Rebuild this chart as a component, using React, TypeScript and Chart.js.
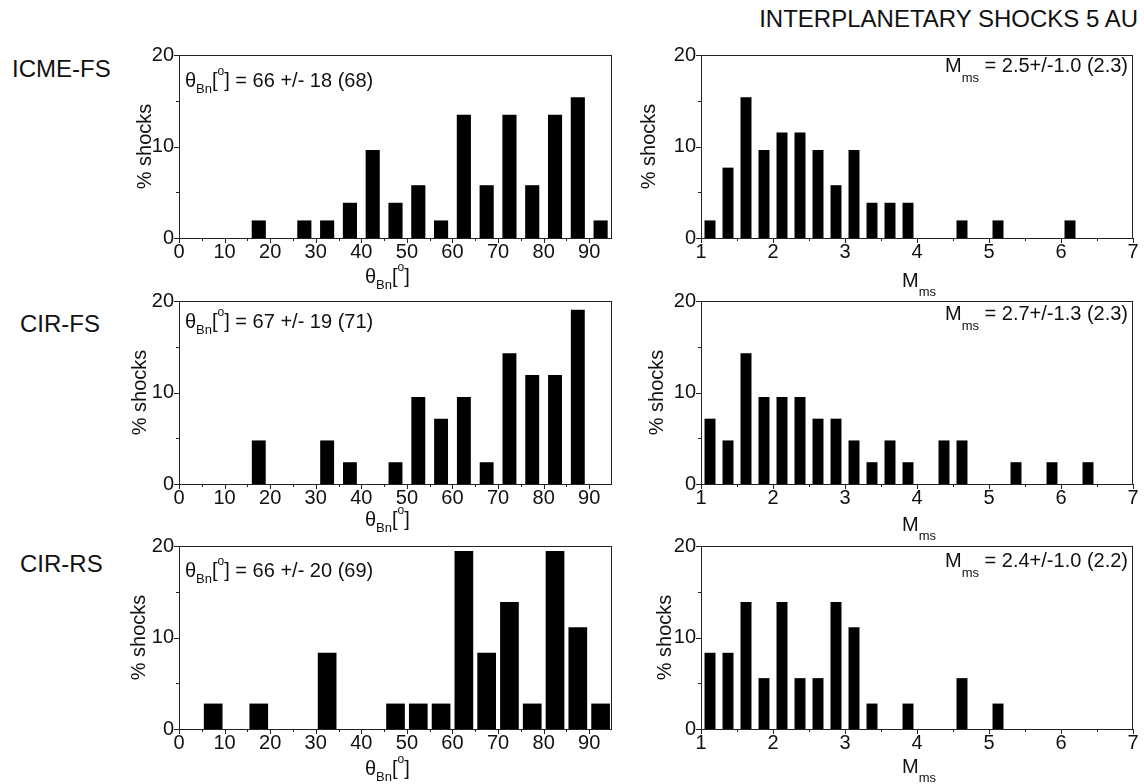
import React, { useEffect, useRef } from 'react';
import { Chart, registerables } from 'chart.js';

Chart.register(...registerables);

const FONT = "'Liberation Sans', Arial, Helvetica, sans-serif";
const INK = '#111';

// ---------- data ----------
const chartTitle = 'INTERPLANETARY SHOCKS 5 AU';
const rowLabels = ['ICME-FS', 'CIR-FS', 'CIR-RS'];
const yAxisTitle = '% shocks';

const thetaCenters = [2.5, 7.5, 12.5, 17.5, 22.5, 27.5, 32.5, 37.5, 42.5, 47.5, 52.5, 57.5, 62.5, 67.5, 72.5, 77.5, 82.5, 87.5, 92.5];
const icmeFsTheta = [0, 0, 0, 1.92, 0, 1.92, 1.92, 3.85, 9.62, 3.85, 5.77, 1.92, 13.46, 5.77, 13.46, 5.77, 13.46, 15.38, 1.92];
const cirFsTheta = [0, 0, 0, 4.76, 0, 0, 4.76, 2.38, 0, 2.38, 9.52, 7.14, 9.52, 2.38, 14.29, 11.9, 11.9, 19.05, 0];
const cirRsTheta = [0, 2.78, 0, 2.78, 0, 0, 8.33, 0, 0, 2.78, 2.78, 2.78, 19.44, 8.33, 13.89, 2.78, 19.44, 11.11, 2.78];

const machCenters = [1.125, 1.375, 1.625, 1.875, 2.125, 2.375, 2.625, 2.875, 3.125, 3.375, 3.625, 3.875, 4.125, 4.375, 4.625, 4.875, 5.125, 5.375, 5.625, 5.875, 6.125, 6.375, 6.625, 6.875];
const icmeFsMach = [1.92, 7.69, 15.38, 9.62, 11.54, 11.54, 9.62, 5.77, 9.62, 3.85, 3.85, 3.85, 0, 0, 1.92, 0, 1.92, 0, 0, 0, 1.92, 0, 0, 0];
const cirFsMach = [7.14, 4.76, 14.29, 9.52, 9.52, 9.52, 7.14, 7.14, 4.76, 2.38, 4.76, 2.38, 0, 4.76, 4.76, 0, 0, 2.38, 0, 2.38, 0, 2.38, 0, 0];
const cirRsMach = [8.33, 8.33, 13.89, 5.56, 13.89, 5.56, 5.56, 13.89, 11.11, 2.78, 0, 2.78, 0, 0, 5.56, 0, 2.78, 0, 0, 0, 0, 0, 0, 0];

const thetaStats = ['66 +/- 18 (68)', '67 +/- 19 (71)', '66 +/- 20 (69)'];
const machStats = ['2.5+/-1.0 (2.3)', '2.7+/-1.3 (2.3)', '2.4+/-1.0 (2.2)'];

const thetaRange = { min: 0, max: 95, step: 10 };
const machRange = { min: 1, max: 7, step: 1 };
const yRange = { min: 0, max: 20, step: 10 };

// ---------- layout ----------
const PAD_L = 70;
const PAD_T = 20;
const PAD_R = 15;
const PAD_B = 60;

type Part = { t: string; k?: 'sub' | 'sup' };

type PanelDef = {
  kind: 'theta' | 'mach';
  left: number;
  top: number;
  width: number;
  height: number;
  centers: number[];
  values: number[];
  stat: string;
  barPct: number;
  statDy: number;
  xTitleDy: number;
  yTitleDx: number;
};

const thetaSeries = [icmeFsTheta, cirFsTheta, cirRsTheta];
const machSeries = [icmeFsMach, cirFsMach, cirRsMach];
const rowTops = [55, 301, 546];
const thetaBarPct = [0.62, 0.61, 0.82];
const thetaStatDy = [32, 27, 31];
const thetaXTitleDy = [45, 42, 46];
const thetaYTitleDx = [-34, -39, -40];
const machStatDy = [17, 19, 21];
const machXTitleDy = [49, 47, 44];
const machYTitleDx = [-52, -44, -36];

const panels: PanelDef[] = [];
for (let r = 0; r < 3; r++) {
  panels.push({
    kind: 'theta', left: 179, top: rowTops[r], width: 433, height: 183,
    centers: thetaCenters, values: thetaSeries[r], stat: thetaStats[r],
    barPct: thetaBarPct[r], statDy: thetaStatDy[r], xTitleDy: thetaXTitleDy[r], yTitleDx: thetaYTitleDx[r],
  });
  panels.push({
    kind: 'mach', left: 701, top: rowTops[r], width: 432, height: 183,
    centers: machCenters, values: machSeries[r], stat: machStats[r],
    barPct: 0.61, statDy: machStatDy[r], xTitleDy: machXTitleDy[r], yTitleDx: machYTitleDx[r],
  });
}

function drawRich(ctx: CanvasRenderingContext2D, parts: Part[], x: number, y: number, align: 'left' | 'right' | 'center', subDy: number) {
  const fontFor = (p: Part) => (p.k === 'sub' ? `13px ${FONT}` : p.k === 'sup' ? `12px ${FONT}` : `20px ${FONT}`);
  const widths = parts.map((p) => {
    ctx.font = fontFor(p);
    return ctx.measureText(p.t).width;
  });
  const total = widths.reduce((a, b) => a + b, 0);
  let cx = align === 'left' ? x : align === 'right' ? x - total : x - total / 2;
  ctx.textAlign = 'left';
  ctx.textBaseline = 'alphabetic';
  parts.forEach((p, i) => {
    ctx.font = fontFor(p);
    const dy = p.k === 'sub' ? subDy : p.k === 'sup' ? -12 : 0;
    ctx.fillText(p.t, cx, y + dy);
    cx += widths[i];
  });
}

const decorPlugin = {
  id: 'decor',
  afterDraw(chart: any, _args: any, opts: any) {
    const p: PanelDef = opts.panel;
    const { ctx, chartArea: a } = chart;
    const xs = chart.scales.x;
    const ys = chart.scales.y;
    const L = Math.round(a.left), T = Math.round(a.top), R = Math.round(a.right), B = Math.round(a.bottom);
    ctx.save();
    ctx.strokeStyle = '#222';
    ctx.lineWidth = 1;
    ctx.strokeRect(L + 0.5, T + 0.5, R - L - 1, B - T);

    // outward ticks, major and minor
    const xr = p.kind === 'theta' ? thetaRange : machRange;
    ctx.beginPath();
    xs.ticks.forEach((tk: any) => {
      const px = Math.round(xs.getPixelForValue(tk.value)) + 0.5;
      ctx.moveTo(px, B); ctx.lineTo(px, B + 5);
      const mv = tk.value + xr.step / 2;
      if (mv < xr.max) {
        const mx = Math.round(xs.getPixelForValue(mv)) + 0.5;
        ctx.moveTo(mx, B); ctx.lineTo(mx, B + 3);
      }
    });
    ys.ticks.forEach((tk: any) => {
      const py = Math.round(ys.getPixelForValue(tk.value)) + 0.5;
      ctx.moveTo(L, py); ctx.lineTo(L - 5, py);
      const mv = tk.value + yRange.step / 2;
      if (mv < yRange.max) {
        const my = Math.round(ys.getPixelForValue(mv)) + 0.5;
        ctx.moveTo(L, my); ctx.lineTo(L - 3, my);
      }
    });
    ctx.stroke();

    ctx.fillStyle = INK;
    // y title
    ctx.save();
    ctx.translate(L + p.yTitleDx, (T + B) / 2);
    ctx.rotate(-Math.PI / 2);
    ctx.font = `20px ${FONT}`;
    ctx.textAlign = 'center';
    ctx.textBaseline = 'middle';
    ctx.fillText(yAxisTitle, 0, 0);
    ctx.restore();

    if (p.kind === 'theta') {
      drawRich(ctx, [{ t: 'θ' }, { t: 'Bn', k: 'sub' }, { t: '[' }, { t: 'o', k: 'sup' }, { t: ']' }], L + 186, B + p.xTitleDy, 'left', 6);
      drawRich(ctx, [{ t: 'θ' }, { t: 'Bn', k: 'sub' }, { t: '[' }, { t: 'o', k: 'sup' }, { t: '] = ' + p.stat }], L + 6, T + p.statDy, 'left', 6);
    } else {
      drawRich(ctx, [{ t: 'M' }, { t: 'ms', k: 'sub' }], (L + R) / 2 + 2, B + p.xTitleDy, 'center', 9);
      drawRich(ctx, [{ t: 'M' }, { t: 'ms', k: 'sub' }, { t: ' = ' + p.stat }], R - 5, T + p.statDy, 'right', 10);
    }
    ctx.restore();
  },
};

function PanelChart({ p }: { p: PanelDef }) {
  const ref = useRef<HTMLCanvasElement>(null);
  const cw = p.width + PAD_L + PAD_R;
  const ch = p.height + PAD_T + PAD_B;
  useEffect(() => {
    const canvas = ref.current;
    if (!canvas) return;
    const xr = p.kind === 'theta' ? thetaRange : machRange;
    const chart = new Chart(canvas, {
      type: 'bar',
      data: {
        datasets: [
          {
            data: p.centers.map((c, i) => ({ x: c, y: p.values[i] })),
            backgroundColor: '#000',
            borderWidth: 0,
            barPercentage: p.barPct,
            categoryPercentage: 1,
          } as any,
        ],
      },
      options: {
        responsive: false,
        animation: false,
        events: [],
        layout: { padding: { left: 0, top: PAD_T, right: PAD_R, bottom: 0 } },
        plugins: {
          legend: { display: false },
          tooltip: { enabled: false },
          decor: { panel: p },
        } as any,
        scales: {
          x: {
            type: 'linear',
            min: xr.min,
            max: xr.max,
            offset: false,
            afterFit: (s: any) => { s.height = PAD_B; },
            ticks: {
              stepSize: xr.step,
              autoSkip: false,
              includeBounds: false,
              maxRotation: 0,
              padding: 2,
              color: INK,
              font: { family: FONT, size: 20 },
            },
            grid: { display: false, drawTicks: false },
            border: { display: false },
          },
          y: {
            min: yRange.min,
            max: yRange.max,
            afterFit: (s: any) => { s.width = PAD_L; },
            ticks: {
              stepSize: yRange.step,
              padding: 5,
              color: INK,
              font: { family: FONT, size: 20 },
            },
            grid: { display: false, drawTicks: false },
            border: { display: false },
          },
        } as any,
      },
      plugins: [decorPlugin as any],
    });
    return () => chart.destroy();
  }, []);
  return (
    <canvas
      ref={ref}
      width={cw}
      height={ch}
      style={{ position: 'absolute', left: p.left - PAD_L, top: p.top - PAD_T, width: cw, height: ch }}
    />
  );
}

const rowLabelPos = [
  { left: 12, top: 57 },
  { left: 20, top: 312 },
  { left: 20, top: 552 },
];

export default function App() {
  return (
    <div
      style={{
        position: 'fixed', left: 0, top: 0, width: 1144, height: 784,
        background: '#fff', overflow: 'hidden', fontFamily: FONT, color: INK,
      }}
    >
      <div style={{ position: 'absolute', right: 6, top: 7, fontSize: 24, lineHeight: '24px', whiteSpace: 'nowrap' }}>
        {chartTitle}
      </div>
      {rowLabels.map((t, i) => (
        <div
          key={t}
          style={{ position: 'absolute', left: rowLabelPos[i].left, top: rowLabelPos[i].top, fontSize: 24, lineHeight: '24px', whiteSpace: 'nowrap' }}
        >
          {t}
        </div>
      ))}
      {panels.map((p, i) => (
        <PanelChart key={i} p={p} />
      ))}
    </div>
  );
}
